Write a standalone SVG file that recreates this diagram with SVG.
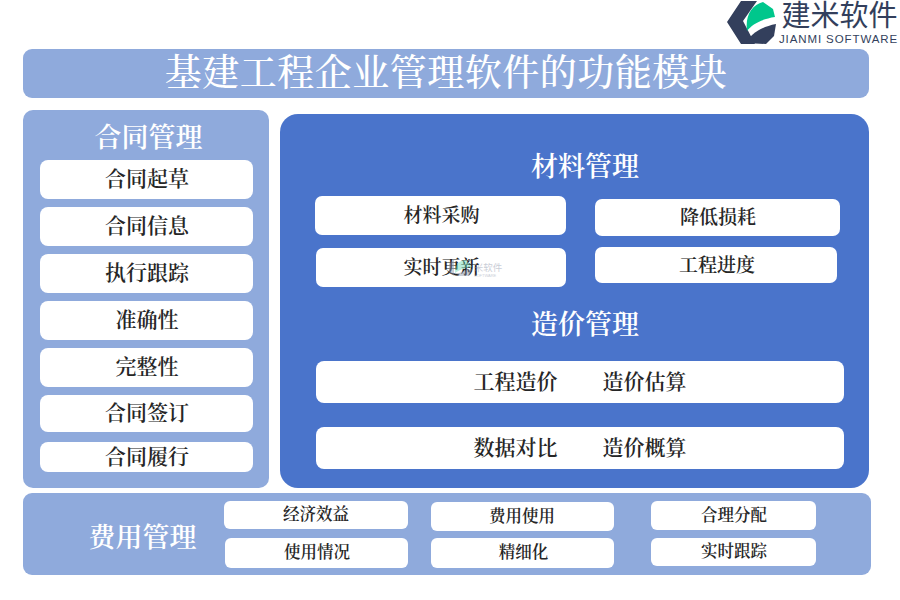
<svg xmlns="http://www.w3.org/2000/svg" width="900" height="600" viewBox="0 0 900 600">
<style>
text{font-family:"Noto Serif CJK SC","Liberation Serif",serif;text-anchor:middle}
.lt{fill:#8faadc}
.w{fill:#fff}
.l{fill:#262626;font-size:21px;font-weight:600}
.s{fill:#262626;font-size:19px;font-weight:600}
.t{fill:#262626;font-size:16.5px;font-weight:600}
.h{fill:#fff;font-size:27px;font-weight:600}
.logo{font-family:"Liberation Sans",sans-serif}
</style>
<rect width="900" height="600" fill="#fff"/>
<g id="logo">
<path d="M741 1H757L743 21L755 44H741L727 22Z" fill="#333f5c"/>
<path d="M747 31C745 15 752 5 763 2L773 9L775 17C762 19 752 24 747 31Z" fill="#00c78c"/>
<path d="M746 43C750 35 760 27 776 24L774 36L766 44Z" fill="#333f5c"/>
<text x="839.500" y="26" font-size="29" fill="#333f5c" style="font-family:'Noto Sans CJK SC',sans-serif">建米软件</text>
<text class="logo" x="838.500" y="43" font-size="11.500" letter-spacing="0.900" fill="#333f5c">JIANMI SOFTWARE</text>
</g>
<g id="title"><rect x="23" y="49" width="846" height="49" rx="9" class="lt"/><text x="446" y="86" font-size="37" fill="#fff" font-weight="500" letter-spacing="0.500">基建工程企业管理软件的功能模块</text></g>
<g id="contract">
<rect x="23" y="110" width="246" height="378" rx="10" class="lt"/>
<text class="h" x="148.500" y="147">合同管理</text>
<rect x="40" y="160" width="213" height="39" rx="8" class="w"/><text class="l" x="147" y="186">合同起草</text>
<rect x="40" y="207" width="213" height="39" rx="8" class="w"/><text class="l" x="147" y="233">合同信息</text>
<rect x="40" y="254" width="213" height="39" rx="8" class="w"/><text class="l" x="147" y="280">执行跟踪</text>
<rect x="40" y="301" width="213" height="39" rx="8" class="w"/><text class="l" x="147" y="327">准确性</text>
<rect x="40" y="348" width="213" height="39" rx="8" class="w"/><text class="l" x="147" y="374">完整性</text>
<rect x="40" y="395" width="213" height="37" rx="8" class="w"/><text class="l" x="147" y="420">合同签订</text>
<rect x="40" y="442" width="213" height="30" rx="8" class="w"/><text class="l" x="147" y="464">合同履行</text>
</g>
<g id="main">
<rect x="280" y="114" width="589" height="374" rx="18" fill="#4a74cb"/>
<text class="h" x="585" y="175.500">材料管理</text>
<rect x="315" y="196" width="251" height="39" rx="7" class="w"/><text class="s" x="441.500" y="222">材料采购</text>
<rect x="595" y="199" width="245" height="37" rx="7" class="w"/><text class="s" x="718" y="224">降低损耗</text>
<rect x="316" y="248" width="250" height="39" rx="7" class="w"/><text class="s" x="441.500" y="274">实时更新</text>
<rect x="595" y="247" width="242" height="36" rx="7" class="w"/><text class="s" x="717" y="271.500">工程进度</text>
<text class="h" x="585" y="333.500">造价管理</text>
<rect x="316" y="361" width="528" height="42" rx="8" class="w"/><text class="l" x="515.500" y="389">工程造价</text><text class="l" x="644.500" y="389">造价估算</text>
<rect x="316" y="427" width="528" height="42" rx="8" class="w"/><text class="l" x="515.500" y="455">数据对比</text><text class="l" x="644.500" y="455">造价概算</text>
</g>
<g id="watermark" opacity="0.45">
<path d="M449 264L454 259V276L449 272Z" fill="#8a93a8"/>
<path d="M455 273C455 265 459 260 466 260L472 267C464 268 459 270 455 273Z" fill="#66d8b4"/>
<path d="M456 276C460 272 465 270 472 269L469 276Z" fill="#8a93a8"/>
<text x="488" y="270.500" font-size="9.500" fill="#8a93a8" style="font-family:'Noto Sans CJK SC',sans-serif">米软件</text>
<text x="485" y="276.500" font-size="4" fill="#8a93a8" style="font-family:'Liberation Sans',sans-serif">SOFTWARE</text>
</g>
<g id="cost">
<rect x="23" y="493" width="848" height="82" rx="9" class="lt"/>
<text class="h" x="142.500" y="547">费用管理</text>
<rect x="224" y="501" width="184" height="28" rx="6" class="w"/><text class="t" x="316" y="520">经济效益</text>
<rect x="225" y="538" width="183" height="30" rx="6" class="w"/><text class="t" x="317" y="558">使用情况</text>
<rect x="431" y="502" width="183" height="29" rx="6" class="w"/><text class="t" x="522" y="522">费用使用</text>
<rect x="431" y="538" width="183" height="30" rx="6" class="w"/><text class="t" x="523.500" y="558">精细化</text>
<rect x="651" y="501" width="165" height="29" rx="6" class="w"/><text class="t" x="734" y="521">合理分配</text>
<rect x="651" y="538" width="165" height="28" rx="6" class="w"/><text class="t" x="734" y="557">实时跟踪</text>
</g>
</svg>
